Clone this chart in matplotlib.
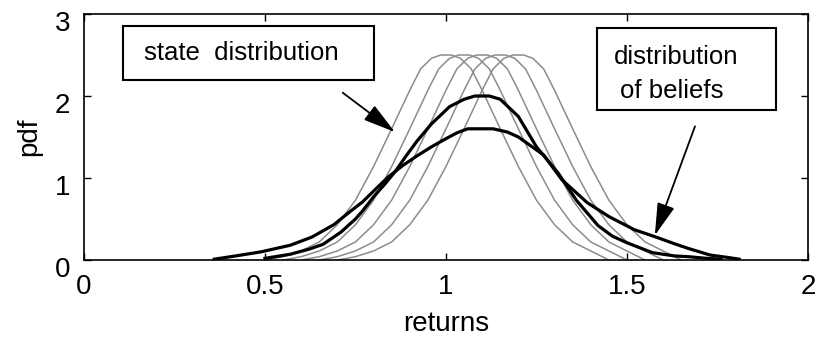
import matplotlib
matplotlib.use("Agg")
import matplotlib.pyplot as plt
import matplotlib.transforms as mtransforms
import numpy as np

plt.rcParams["font.family"] = ["Liberation Sans", "DejaVu Sans"]

# gray "state distribution" curves: one profile, drawn at each centre
state_centers = [1.00, 1.05, 1.10, 1.15, 1.20]
profile_dx = [-0.50, -0.45, -0.40, -0.35, -0.30, -0.25, -0.20, -0.15, -0.10, -0.07, -0.04,
              -0.015, 0.015, 0.04, 0.07, 0.10, 0.15, 0.20, 0.25, 0.30, 0.35, 0.40, 0.45]
profile_y = [0.00, 0.04, 0.11, 0.22, 0.43, 0.73, 1.14, 1.60, 2.07, 2.33, 2.46,
             2.50, 2.50, 2.46, 2.33, 2.07, 1.60, 1.14, 0.73, 0.43, 0.22, 0.11, 0.00]

# black "distribution of beliefs" curves
belief_tall_x = [0.50, 0.57, 0.62, 0.66, 0.71, 0.75, 0.77, 0.80, 0.83, 0.86, 0.89, 0.92,
                 0.96, 1.01, 1.05, 1.08, 1.12, 1.15, 1.20, 1.25, 1.31, 1.36, 1.42, 1.46,
                 1.50, 1.57, 1.63, 1.67, 1.72, 1.76]
belief_tall_y = [0.02, 0.07, 0.13, 0.19, 0.34, 0.50, 0.60, 0.77, 0.92, 1.08, 1.27, 1.45,
                 1.66, 1.87, 1.96, 2.00, 2.00, 1.96, 1.75, 1.38, 1.06, 0.73, 0.42, 0.29,
                 0.21, 0.09, 0.05, 0.04, 0.02, 0.01]
belief_wide_x = [0.36, 0.42, 0.49, 0.57, 0.63, 0.69, 0.735, 0.77, 0.80, 0.84, 0.88, 0.92,
                 0.96, 1.00, 1.03, 1.06, 1.13, 1.17, 1.20, 1.27, 1.32, 1.39, 1.45, 1.52,
                 1.58, 1.63, 1.67, 1.73, 1.78, 1.81]
belief_wide_y = [0.01, 0.05, 0.10, 0.18, 0.28, 0.43, 0.59, 0.71, 0.84, 1.01, 1.15, 1.27,
                 1.38, 1.48, 1.55, 1.60, 1.60, 1.56, 1.50, 1.28, 0.98, 0.70, 0.53, 0.37,
                 0.28, 0.20, 0.14, 0.06, 0.03, 0.01]

x_ticks = [0, 0.5, 1, 1.5, 2]
x_tick_labels = ["0", "0.5", "1", "1.5", "2"]
y_ticks = [0, 1, 2, 3]

fig = plt.figure(figsize=(8.2, 3.46), dpi=100)
ax = fig.add_axes([0.1024, 0.2486, 0.8829, 0.7109])

for c in state_centers:
    ax.plot(np.array(profile_dx) + c, profile_y, color="#8c8c8c", lw=1.1)
ax.plot(belief_wide_x, belief_wide_y, color="black", lw=2.3)
ax.plot(belief_tall_x, belief_tall_y, color="black", lw=2.3)

ax.set_xlim(0, 2)
ax.set_ylim(0, 3)
ax.set_xticks(x_ticks)
ax.set_xticklabels(x_tick_labels)
ax.set_yticks(y_ticks)
ax.tick_params(direction="in", length=5, width=1, top=True, right=True,
               labelsize=20, pad=10)
# the y tick labels sit a little below their ticks in the original
shift = mtransforms.ScaledTranslation(0, -7 / 100, fig.dpi_scale_trans)
for lab in ax.get_yticklabels():
    lab.set_transform(lab.get_transform() + shift)
for s in ax.spines.values():
    s.set_linewidth(1.2)
ax.set_xlabel("returns", fontsize=20, labelpad=8)
ax.set_ylabel("pdf", fontsize=20, labelpad=9)

arrow = dict(arrowstyle="-|>,head_length=2.0,head_width=0.55",
             color="black", lw=1.3, shrinkA=0, shrinkB=0)

# annotation boxes
ax.add_patch(plt.Rectangle((0.108, 2.195), 0.693, 0.655, fill=False, lw=1.5,
                           edgecolor="black", zorder=5))
ax.text(0.435, 2.52, "state  distribution", fontsize=18.5, ha="center", va="center")
ax.annotate("", xy=(0.859, 1.56), xytext=(0.715, 2.04), arrowprops=arrow)

ax.add_patch(plt.Rectangle((1.417, 1.83), 0.495, 1.0, fill=False, lw=1.5,
                           edgecolor="black", zorder=5))
ax.text(1.465, 2.48, "distribution", fontsize=18.5, ha="left", va="center")
ax.text(1.48, 2.06, "of beliefs", fontsize=18.5, ha="left", va="center")
ax.annotate("", xy=(1.577, 0.30), xytext=(1.688, 1.63), arrowprops=arrow)

fig.savefig("out.png", dpi=100)
